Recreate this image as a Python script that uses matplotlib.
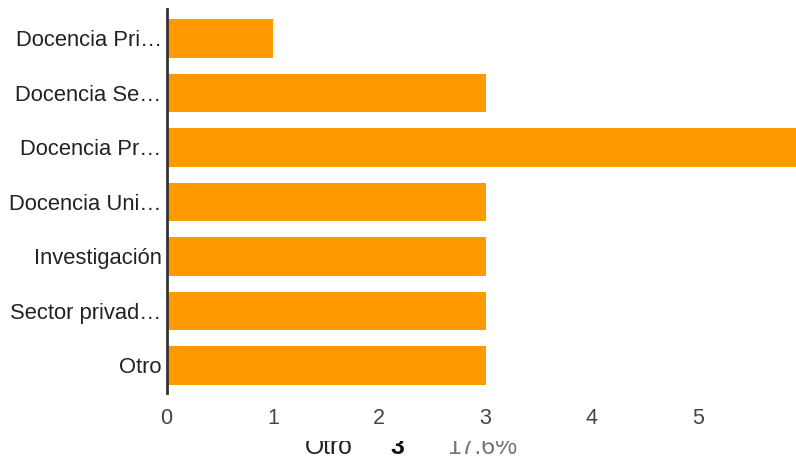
import matplotlib
matplotlib.use('Agg')
import matplotlib.pyplot as plt
from matplotlib.transforms import Bbox

# Data
categories = ['Docencia Pri…', 'Docencia Se…', 'Docencia Pr…', 'Docencia Uni…',
              'Investigación', 'Sector privad…', 'Otro']
counts = [1, 3, 6, 3, 3, 3, 3]
xticks = [0, 1, 2, 3, 4, 5]

# footer row (partly hidden in the original)
footer_label = 'Otro'
footer_count = '3'
footer_pct = '17.6%'

plt.rcParams['font.family'] = ['Liberation Sans', 'DejaVu Sans']

fig = plt.figure(figsize=(7.96, 4.62), dpi=100)
ax = fig.add_axes([166.5 / 796, 1 - 393.3 / 462, 629.5 / 796, 384.3 / 462])

ypos = list(range(len(categories)))
ax.barh(ypos, counts, height=0.71, color='#ff9900', zorder=2)

ax.set_xlim(0, 5.92)
ax.set_ylim(6.51, -0.54)

ax.set_yticks(ypos)
ax.set_yticklabels(categories, fontsize=15.8, color='#222222')
ax.set_xticks(xticks)
ax.set_xticklabels([str(t) for t in xticks], fontsize=15.5, color='#444444')
ax.tick_params(axis='y', length=0, pad=3.5)
ax.tick_params(axis='x', length=0, pad=10.5)

for s in ['top', 'right', 'bottom']:
    ax.spines[s].set_visible(False)
ax.spines['left'].set_color('#333333')
ax.spines['left'].set_linewidth(2.0)
ax.spines['left'].set_zorder(3)

# footer text, cut off at the top like in the reference
clip = Bbox.from_extents(0, 0, 796, 462 - 441)
yb = (462 - 454) / 462
for xs, txt, col, wt in [(305, footer_label, '#222222', 'normal'),
                         (390, footer_count, '#111111', 'bold'),
                         (447, footer_pct, '#757575', 'normal')]:
    t = fig.text(xs / 796, yb, txt, fontsize=17.8, color=col, weight=wt,
                 va='baseline', ha='left')
    t.set_clip_box(clip)
    t.set_clip_on(True)

fig.savefig('out.png', dpi=100)
